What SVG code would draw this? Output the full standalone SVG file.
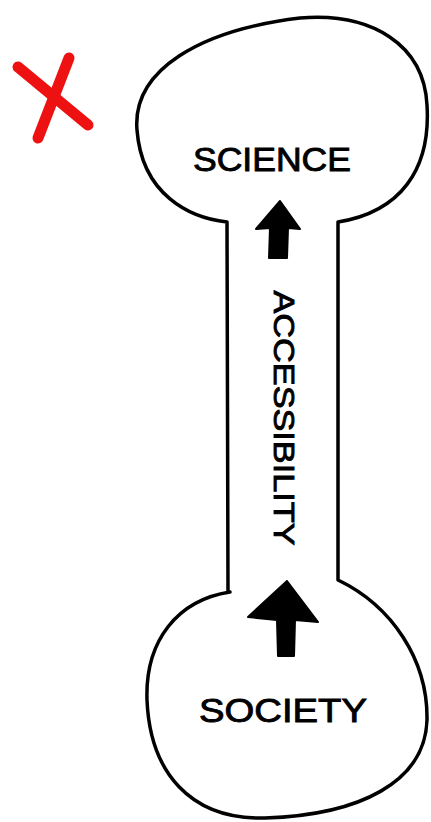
<svg xmlns="http://www.w3.org/2000/svg" width="431" height="822" viewBox="0 0 431 822">
<style>
.outline{fill:#fff;stroke:#000;stroke-width:3.5;stroke-linejoin:round;stroke-linecap:round}
.lbl{font-family:"Liberation Sans",Arial,sans-serif;fill:#000;stroke:#000;stroke-width:0.9;font-weight:normal}
.arrow{fill:#000;stroke:#000;stroke-width:2;stroke-linejoin:round}
.x{stroke:#ee1111;stroke-width:11;stroke-linecap:round;fill:none}
</style>
<rect width="431" height="822" fill="#fff"/>
<g id="shape">
<path class="outline" d="M 228 592 L 227 222 C 190 218 142 195 137 130 C 132 70 200 30 300 18 C 372 12 424 45 427 105 C 431 170 400 212 338 222 L 338 580 C 392 606 428 660 427 720 C 425 782 360 815 265 818 C 190 820 150 772 147 700 C 145 640 178 600 230 592 Z"/>
</g>
<g id="science">
<text class="lbl" x="272" y="171" font-size="33" text-anchor="middle" textLength="158" lengthAdjust="spacingAndGlyphs">SCIENCE</text>
</g>
<g id="society">
<text class="lbl" x="283" y="722" font-size="34" text-anchor="middle" textLength="168" lengthAdjust="spacingAndGlyphs">SOCIETY</text>
</g>
<g id="connectors">
<path class="arrow" d="M 280 201 L 300 229 L 288 228 L 287 258 L 269 258 L 270 228 L 256 229 Z"/>
<path class="arrow" d="M 287 581 L 318 622 L 295 620 L 294 656 L 278 656 L 277 620 L 248 617 Z"/>
<text class="lbl" x="0" y="0" font-size="30" text-anchor="middle" textLength="255" lengthAdjust="spacingAndGlyphs" transform="translate(274 418) rotate(90)">ACCESSIBILITY</text>
</g>
<g id="mark">
<line class="x" x1="18" y1="67" x2="88" y2="125"/>
<line class="x" x1="69" y1="58" x2="38" y2="138"/>
</g>
</svg>
